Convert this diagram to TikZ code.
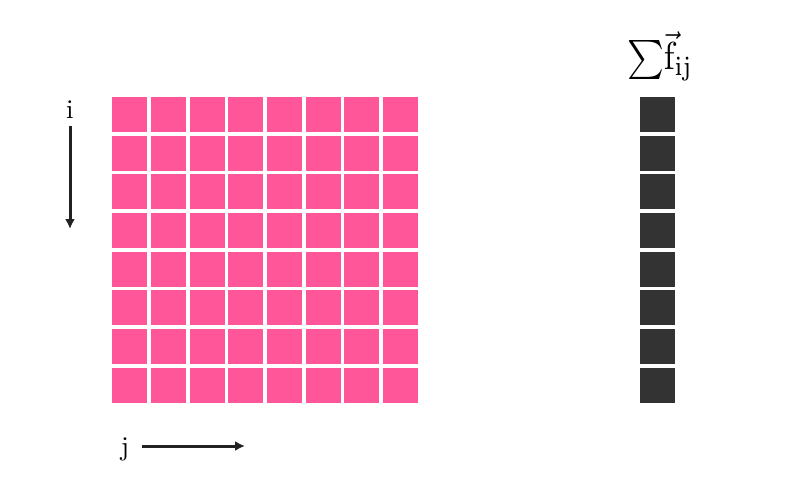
\documentclass[tikz,border=0pt]{standalone}
\usetikzlibrary{arrows.meta}
\definecolor{cellpink}{HTML}{FF5599}
\definecolor{celldark}{HTML}{333333}
\definecolor{arrowdark}{HTML}{222222}
\begin{document}
\begin{tikzpicture}[x=1pt,y=-1pt,
  pinkcell/.style={fill=cellpink,draw=none,minimum width=35pt,minimum height=35pt,inner sep=0pt,anchor=north west},
  darkcell/.style={fill=celldark,draw=none,minimum width=35pt,minimum height=35pt,inner sep=0pt,anchor=north west},
  axis/.style={draw=arrowdark,line width=3pt,-{Latex[length=10pt,width=10pt]}},
  lbl/.style={inner sep=0pt}]
\useasboundingbox (0,0) rectangle (800,500);
\foreach \r in {0,...,7}{
  \foreach \c in {0,...,7}{
    \node[pinkcell] (p\r\c) at (112+\c*38.7,96.7+\r*38.7) {};
  }
  \node[darkcell] (d\r) at (639.5,96.7+\r*38.7) {};
}
\node[lbl,anchor=base] (ilab) at (70,118) {\scalebox{2.7}{i}};
\coordinate (itop) at (70,126);
\coordinate (ibot) at (70,229);
\draw[axis] (itop) -- (ibot);
\node[lbl,anchor=base] (jlab) at (125,455) {\scalebox{2.7}{j}};
\coordinate (jl) at (142,446);
\coordinate (jr) at (245,446);
\draw[axis] (jl) -- (jr);
\node[inner sep=0pt] (sumlab) at (660,56) {\scalebox{3.5}[3.9]{${\sum}\vec{\mathrm{f}}_{\mathrm{ij}}$}};
\end{tikzpicture}
\end{document}
